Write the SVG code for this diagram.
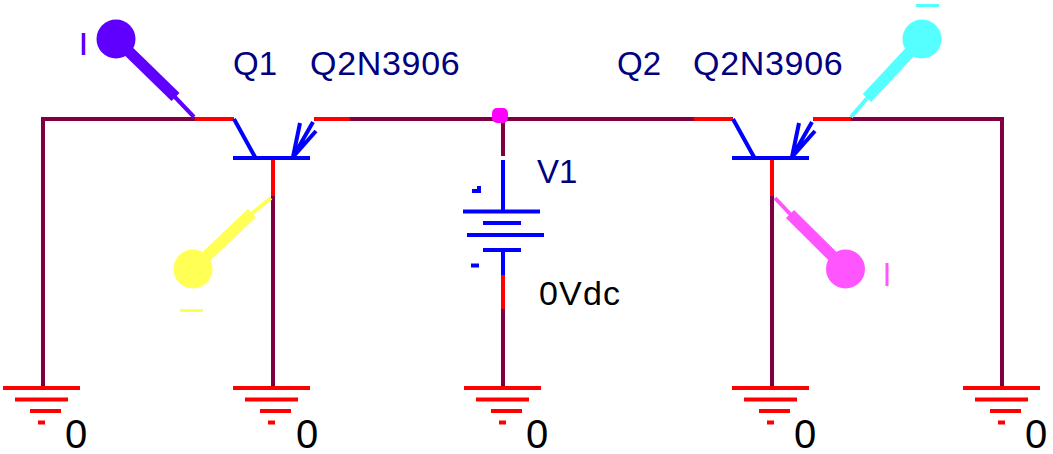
<svg xmlns="http://www.w3.org/2000/svg" width="1053" height="454" viewBox="0 0 1053 454">
<style>
text{font-family:"Liberation Sans",Arial,sans-serif}
.lbl{font-size:33px;fill:#000080}
.long{font-size:34px;letter-spacing:.7px}
.blk{font-size:34px;fill:#000;letter-spacing:1.2px}
.zero{font-size:40px;fill:#000}
.w{fill:none;stroke:#7f0040;stroke-width:4}
.r{fill:none;stroke:#f00;stroke-width:4}
.b{fill:none;stroke:#00f;stroke-width:4}
.g{fill:none;stroke:#f00;stroke-width:4}
</style>
<defs>
<g id="gnd"><path class="g" d="M3 388H80M15 399.500H68M30 411H61M38 422.500H45"/></g>
<g id="qnp"><path class="b" d="M234 119L255 157M233 158H310M293 157L313 122M293 157L300 123M293 157L316 131"/></g>
</defs>
<g id="wires">
<path class="w" d="M195 119H43V387M273 196V387M350 119H694M503 119V156M503 309V387M851 119H1002V387M772 196V387"/>
<path class="r" d="M195 119H234M314 119H350M273 160V196M694 119H733M813 119H851M772 160V196M503 275V309"/>
</g>
<g id="Q1"><use href="#qnp"/><text class="lbl" x="233" y="75">Q1</text><text class="lbl long" x="310" y="75">Q2N3906</text></g>
<g id="Q2"><use href="#qnp" x="499"/><text class="lbl" x="617" y="75">Q2</text><text class="lbl long" x="693" y="75">Q2N3906</text></g>
<g id="V1">
<path class="b" d="M503 160V211M463 211.500H540M483 223H521M467 235H544M483 250H521M503 250V275M472 191H479V186M471 265.500H479"/>
<text class="lbl" x="537" y="183">V1</text><text class="blk" x="539" y="305">0Vdc</text>
</g>
<g id="junction"><rect x="492" y="108" width="16" height="15" rx="5" fill="#f0f"/></g>
<g id="probe1" fill="#5f00ff" stroke="#5f00ff"><circle cx="116" cy="39" r="19.500" stroke="none"/><path d="M116 39L175.500 97" stroke-width="11.500"/><path d="M173 95L194 117" stroke-width="4"/><path d="M83.500 33V55" stroke-width="3.500"/></g>
<g id="probe2" fill="#ffff55" stroke="#ffff55"><circle cx="193" cy="269" r="19.500" stroke="none"/><path d="M193 269L252 213" stroke-width="11.500"/><path d="M250 215L271 198" stroke-width="4"/><path d="M180 310.500H203" stroke-width="3"/></g>
<g id="probe3" fill="#55ffff" stroke="#55ffff"><circle cx="922" cy="39" r="19.500" stroke="none"/><path d="M922 39L867 98" stroke-width="11.500"/><path d="M869 96L851 117" stroke-width="4"/><path d="M916 5.500H939" stroke-width="3"/></g>
<g id="probe4" fill="#ff55ff" stroke="#ff55ff"><circle cx="845.500" cy="269" r="19.500" stroke="none"/><path d="M845.500 269L790 214" stroke-width="11.500"/><path d="M792 216L775 198" stroke-width="4"/><path d="M887 263V286" stroke-width="3"/></g>
<g id="gnd1"><use href="#gnd"/><text class="zero" x="65" y="448">0</text></g>
<g id="gnd2"><use href="#gnd" x="230"/><text class="zero" x="296" y="448">0</text></g>
<g id="gnd3"><use href="#gnd" x="461"/><text class="zero" x="526" y="448">0</text></g>
<g id="gnd4"><use href="#gnd" x="729"/><text class="zero" x="794" y="448">0</text></g>
<g id="gnd5"><use href="#gnd" x="960"/><text class="zero" x="1025" y="448">0</text></g>
</svg>
